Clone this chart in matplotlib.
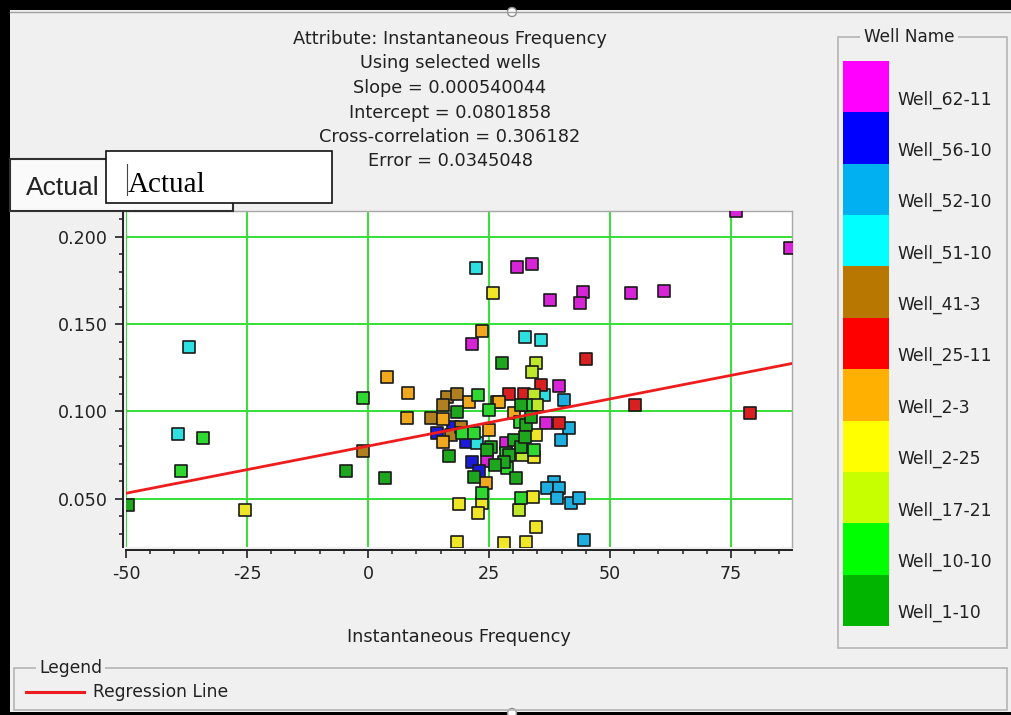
import matplotlib
matplotlib.use("Agg")
import matplotlib.pyplot as plt
from matplotlib.patches import Rectangle, Circle
from matplotlib.ticker import MultipleLocator, FormatStrFormatter
import numpy as np

plt.rcParams['font.family'] = ['DejaVu Sans']
plt.rcParams['axes.unicode_minus'] = False

W, H, DPI = 1011, 715, 100
TXT = '#222222'
BG = '#f0f0f0'

# Regression summary
attribute = "Instantaneous Frequency"
slope = 0.000540044
intercept = 0.0801858
xcorr = 0.306182
error = 0.0345048

wells = ["Well_62-11", "Well_56-10", "Well_52-10", "Well_51-10", "Well_41-3",
         "Well_25-11", "Well_2-3", "Well_2-25", "Well_17-21", "Well_10-10", "Well_1-10"]
well_colors = ["#ff00ff", "#0000ff", "#00b0f0", "#00ffff", "#b87800",
               "#ff0000", "#ffb000", "#ffff00", "#c8ff00", "#00ff00", "#00b400"]
# slightly shaded fill used for the scatter squares
marker_colors = ["#d624d6", "#1a1ad8", "#1eaee0", "#2ee0e0", "#b08020",
                 "#d82020", "#f0a81e", "#f0e628", "#c0e82a", "#2ed82e", "#1ea61e"]

# Instantaneous frequency (x) and actual value (y) per well
freq_62_11 = [76.0, 87.1, 30.8, 33.9, 37.6, 44.4, 43.9, 54.4, 61.2, 21.4, 39.4, 24.6, 28.5, 36.8]
act_62_11 = [0.2148, 0.1936, 0.1827, 0.1844, 0.1638, 0.1684, 0.1621, 0.1678, 0.1690, 0.1386,
             0.1146, 0.0717, 0.0820, 0.0934]

freq_56_10 = [14.2, 20.3, 21.4, 23.0, 17.5]
act_56_10 = [0.0877, 0.0825, 0.0711, 0.0659, 0.0911]

freq_52_10 = [40.5, 41.5, 39.8, 38.4, 37.0, 39.4, 39.0, 41.9, 43.5, 44.6]
act_52_10 = [0.1066, 0.0906, 0.0837, 0.0596, 0.0562, 0.0562, 0.0505, 0.0476, 0.0505, 0.0264]

freq_51_10 = [-37.0, -39.2, 22.4, 32.4, 35.7, 36.3, 22.6]
act_51_10 = [0.1369, 0.0871, 0.1821, 0.1426, 0.1409, 0.1094, 0.0820]

freq_41_3 = [-1.0, 16.4, 18.3, 15.4, 13.1, 17.2, 26.7, 19.3]
act_41_3 = [0.0774, 0.1084, 0.1100, 0.1038, 0.0963, 0.0866, 0.1054, 0.0912]

freq_25_11 = [45.0, 35.7, 29.2, 32.2, 39.4, 55.2, 78.9]
act_25_11 = [0.1300, 0.1152, 0.1101, 0.1101, 0.0934, 0.1038, 0.0991]

freq_2_3 = [23.6, 3.9, 8.2, 20.9, 15.4, 25.1, 15.4, 30.2, 27.1, 24.4, 8.0]
act_2_3 = [0.1459, 0.1197, 0.1106, 0.1054, 0.0957, 0.0894, 0.0825, 0.0991, 0.1054, 0.0591, 0.0963]

freq_2_25 = [-25.5, 25.9, 18.9, 23.6, 22.8, 18.3, 28.1, 32.6, 34.7, 34.1, 34.7, 34.3]
act_2_25 = [0.0436, 0.1678, 0.0471, 0.0476, 0.0419, 0.0253, 0.0247, 0.0253, 0.0339, 0.0511,
            0.0865, 0.0739]

freq_17_21 = [34.7, 33.9, 34.3, 34.9, 31.2, 31.8]
act_17_21 = [0.1278, 0.1226, 0.1094, 0.1038, 0.0436, 0.0748]

freq_10_10 = [-1.0, -34.1, -38.6, 22.8, 25.1, 19.5, 22.0, 28.5, 28.7, 23.6, 31.6, 34.3, 32.6,
              31.4, 31.6]
act_10_10 = [0.1077, 0.0848, 0.0659, 0.1094, 0.1009, 0.0877, 0.0877, 0.0762, 0.0677, 0.0533,
             0.0505, 0.0780, 0.1037, 0.0940, 0.0797]

freq_1_10 = [-49.6, -4.5, 3.5, 27.7, 18.3, 16.8, 25.5, 22.0, 30.6, 32.6, 30.2, 31.6, 32.4, 33.7,
             29.2, 28.1, 26.3, 24.6, 31.6]
act_1_10 = [0.0465, 0.0659, 0.0619, 0.1278, 0.0997, 0.0745, 0.0797, 0.0625, 0.0619, 0.0923,
            0.0837, 0.0797, 0.0854, 0.0969, 0.0751, 0.0711, 0.0694, 0.0780, 0.1037]

well_freq = [freq_62_11, freq_56_10, freq_52_10, freq_51_10, freq_41_3, freq_25_11,
             freq_2_3, freq_2_25, freq_17_21, freq_10_10, freq_1_10]
well_act = [act_62_11, act_56_10, act_52_10, act_51_10, act_41_3, act_25_11,
            act_2_3, act_2_25, act_17_21, act_10_10, act_1_10]

fig = plt.figure(figsize=(W / DPI, H / DPI), dpi=DPI, facecolor=BG)

# ---- main scatter axes ----
ax = fig.add_axes([126 / W, 1 - 547 / H, 666 / W, 336 / H])
ax.set_facecolor('white')
ax.set_xlim(-50, 87.6)
ax.set_ylim(0.0224, 0.2148)
ax.xaxis.set_major_locator(MultipleLocator(25))
ax.xaxis.set_minor_locator(MultipleLocator(5))
ax.yaxis.set_major_locator(MultipleLocator(0.05))
ax.yaxis.set_minor_locator(MultipleLocator(0.01))
ax.yaxis.set_major_formatter(FormatStrFormatter('%.3f'))
ax.grid(True, which='major', color='#34e034', lw=1.4)
ax.set_axisbelow(True)
for s in ['left', 'bottom']:
    ax.spines[s].set_position(('outward', 2.2))
    ax.spines[s].set_linewidth(1.4)
    ax.spines[s].set_color('#202020')
for s in ['top', 'right']:
    ax.spines[s].set_color('#a8a8a8')
    ax.spines[s].set_linewidth(1.0)
ax.tick_params(which='major', length=6, width=1.2, labelsize=12.6, pad=5,
               color='#202020', labelcolor=TXT)
ax.tick_params(which='minor', length=3, width=1.1, color='#202020')
ax.set_xlabel(attribute, fontsize=12.8, color=TXT, labelpad=32)

for xs, ys, col in zip(well_freq, well_act, marker_colors):
    ax.scatter(xs, ys, s=78, marker='s', c=col, edgecolors='#1a1a1a',
               linewidths=1.2, zorder=3)

xl = np.array(ax.get_xlim())
ax.plot(xl, intercept + slope * xl, color='#ee1c1c', lw=2.0, zorder=4)

# ---- overlay in pixel coordinates ----
ov = fig.add_axes([0, 0, 1, 1], zorder=10)
ov.set_xlim(0, W)
ov.set_ylim(H, 0)
ov.axis('off')
ov.patch.set_alpha(0)

# window frame
ov.add_patch(Rectangle((0, 0), W, 10, color='black', lw=0))
ov.add_patch(Rectangle((0, 0), 10, H, color='black', lw=0))
ov.add_patch(Rectangle((0, 712), W, 3, color='black', lw=0))
ov.plot([10, W], [11.5, 11.5], color='#a0a0a0', lw=1)
ov.add_patch(Circle((512, 12), 4.5, facecolor='white', edgecolor='#909090', lw=1))
ov.add_patch(Circle((512, 713), 4.5, facecolor='white', edgecolor='#909090', lw=1))

# title block
title_lines = ["Attribute: " + attribute,
               "Using selected wells",
               f"Slope = {slope:.6g}",
               f"Intercept = {intercept:.6g}",
               f"Cross-correlation = {xcorr:.6g}",
               f"Error = {error:.6g}"]
for i, line in enumerate(title_lines):
    ov.text(450, 39 + 24.5 * i, line, ha='center', va='center', fontsize=12.8, color=TXT)

# y label boxes
ov.add_patch(Rectangle((10, 159), 223, 52, facecolor='#fafafa', edgecolor='#303030', lw=1.5))
ov.text(26, 195, "Actual", ha='left', va='baseline', fontsize=19,
        family='Liberation Sans', color='#222222')
ov.add_patch(Rectangle((106, 151), 226, 52, facecolor='white', edgecolor='#111111', lw=1.2))
ov.plot([127, 127], [164, 195], color='#444444', lw=0.8)
ov.text(128, 192, "Actual", ha='left', va='baseline', fontsize=21,
        family='Liberation Serif', color='black')

# well name legend panel
ov.add_patch(Rectangle((838, 37), 169, 611, facecolor='none', edgecolor='#b4b4b4', lw=1.2))
ov.text(909, 37, "Well Name", ha='center', va='center', fontsize=12.2, color=TXT,
        bbox=dict(boxstyle='square,pad=0.25', fc=BG, ec='none'))
seg = 565 / len(wells)
for i, (name, col) in enumerate(zip(wells, well_colors)):
    top = 61 + seg * i
    ov.add_patch(Rectangle((843, top), 46, seg, facecolor=col, edgecolor='none'))
    ov.text(897, top + 38.5, name, ha='left', va='center', fontsize=12.3, color=TXT)

# bottom legend panel
ov.add_patch(Rectangle((14, 668), 993, 42, facecolor='none', edgecolor='#b4b4b4', lw=1.2))
ov.text(39, 668, "Legend", ha='left', va='center', fontsize=12.3, color=TXT,
        bbox=dict(boxstyle='square,pad=0.2', fc=BG, ec='none'))
ov.plot([26, 84], [692, 692], color='#ee1c1c', lw=2.2)
ov.text(93, 692, "Regression Line", ha='left', va='center', fontsize=12.3, color=TXT)

fig.savefig("out.png", dpi=DPI, facecolor=BG)
